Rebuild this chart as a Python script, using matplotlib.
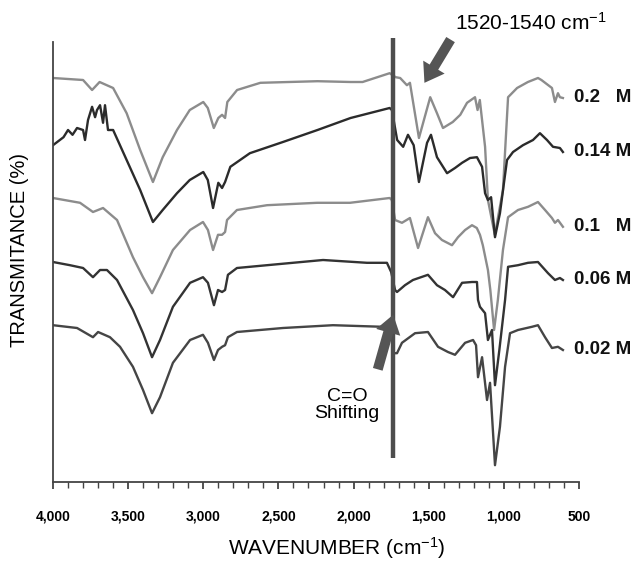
#!/usr/bin/env python3
"""FTIR spectra of the films at five concentrations (stacked, offset)."""

import matplotlib
matplotlib.use("Agg")
import matplotlib.pyplot as plt
from matplotlib.ticker import FuncFormatter, MultipleLocator

plt.rcParams["font.family"] = ["Liberation Sans", "DejaVu Sans"]
plt.rcParams["mathtext.fontset"] = "custom"
plt.rcParams["mathtext.rm"] = "Liberation Sans"
plt.rcParams["mathtext.default"] = "regular"

# spectra (wavenumber in cm-1, transmittance in a.u.)
wn_020 = [4000, 3800, 3740, 3690, 3600, 3510, 3420, 3335, 3270, 3175, 3090, 3000, 2970, 2930,
          2900, 2875, 2855, 2840, 2775, 2620, 2240, 2020, 1940, 1760, 1720, 1690, 1645, 1625,
          1565, 1490, 1445, 1405, 1340, 1290, 1245, 1192, 1175, 1160, 1125, 1106, 1060, 1006,
          972, 912, 840, 773, 750, 680, 660, 640, 627, 607]
tr_020 = [101, 100.5, 98, 100, 98.5, 92.2, 83, 75, 81.2, 88, 93, 95, 93.5, 88.5,
          91, 91.8, 91, 95, 98, 99.8, 100.2, 100, 100, 102.2, 101.2, 101, 99.2, 99.8,
          86, 96.2, 92.2, 88.5, 90, 91.8, 94.8, 96.2, 93, 95.5, 83.8, 70.5, 61.8, 73,
          96.2, 98.5, 100, 101, 100.5, 98.5, 95, 97.2, 96.2, 96]

wn_014 = [4000, 3930, 3900, 3870, 3840, 3800, 3787, 3767, 3740, 3720, 3707, 3687, 3667, 3654,
          3634, 3600, 3510, 3420, 3335, 3270, 3175, 3090, 3000, 2970, 2935, 2900, 2875, 2855,
          2820, 2690, 2470, 2240, 2020, 1760, 1745, 1710, 1670, 1638, 1600, 1565, 1511, 1485,
          1445, 1378, 1325, 1278, 1225, 1179, 1145, 1125, 1106, 1085, 1059, 1026, 979, 939,
          873, 806, 760, 713, 673, 627, 607]
tr_014 = [84.2, 86.2, 88, 86.8, 88.5, 88, 85.5, 90.5, 93.8, 91.2, 93, 94.2, 89.8, 94.2,
          88, 88, 80.5, 73, 65, 68, 72.2, 75.5, 77.5, 75.5, 68.5, 74.8, 73.5, 75,
          78.8, 82.2, 85, 88, 91, 93.5, 93, 85.5, 83.8, 86.8, 84.2, 75, 84.8, 86.8,
          81.2, 77.2, 78.5, 79.8, 81, 81.2, 78.8, 72.2, 70.5, 71.2, 61.2, 67.2, 80.5, 82.5,
          84.2, 85.5, 87.2, 85.5, 83.8, 83.5, 82.5]

wn_010 = [4000, 3820, 3734, 3667, 3574, 3468, 3401, 3341, 3288, 3202, 3088, 3002, 2969, 2935,
          2902, 2875, 2855, 2842, 2776, 2576, 2243, 2024, 1760, 1745, 1724, 1678, 1625, 1571,
          1505, 1458, 1412, 1345, 1305, 1258, 1212, 1180, 1159, 1140, 1106, 1090, 1065, 1040,
          1006, 972, 906, 839, 773, 726, 680, 660, 640, 607]
tr_010 = [71, 69.8, 67.5, 68.5, 65.5, 56.2, 51.2, 47.2, 51.2, 58, 63, 65, 63, 58,
          61.8, 61.8, 62.5, 65.5, 68, 69.2, 69.8, 69.8, 71, 70.5, 65.5, 64.8, 66, 58.5,
          66.2, 62.2, 60.5, 59.2, 61.2, 63, 64.2, 63.5, 61.8, 59.2, 53, 48, 38, 45.5,
          58, 66.2, 68, 68.8, 70, 68, 66, 64.8, 65.5, 63.8]

wn_006 = [4000, 3887, 3800, 3734, 3687, 3641, 3574, 3468, 3401, 3341, 3288, 3202, 3088, 3002,
          2969, 2929, 2902, 2875, 2855, 2836, 2776, 2576, 2203, 1911, 1778, 1750, 1724, 1711,
          1658, 1605, 1505, 1445, 1392, 1338, 1278, 1212, 1179, 1172, 1159, 1125, 1106, 1079,
          1059, 1030, 992, 972, 906, 839, 773, 706, 660, 627, 607]
tr_006 = [55, 54.2, 53.5, 51.2, 53, 53, 50.5, 43, 37.2, 31.2, 35.5, 43.8, 49.8, 51.2,
          49.8, 44.2, 48, 47.5, 48, 51.8, 53.5, 54.2, 55.5, 54.8, 54.8, 52.5, 48, 47.5,
          49.2, 50.5, 51.8, 49.2, 48, 46.2, 49.8, 50, 50, 45.5, 43.8, 42.2, 35.5, 38,
          24.2, 33, 45.5, 53.8, 54.2, 54.8, 55, 52.2, 50.5, 51, 50.5]

wn_002 = [4000, 3840, 3734, 3700, 3621, 3554, 3468, 3401, 3341, 3288, 3202, 3088, 3002, 2969,
          2929, 2902, 2875, 2855, 2836, 2776, 2470, 2137, 1804, 1750, 1735, 1711, 1678, 1591,
          1505, 1438, 1372, 1325, 1258, 1205, 1185, 1172, 1145, 1112, 1092, 1059, 1026, 992,
          959, 906, 813, 773, 726, 680, 640, 607]
tr_002 = [39.2, 38.5, 36.2, 37.5, 36.2, 33.8, 28.8, 23, 17.2, 21.2, 29.8, 35.5, 36.8, 34.8,
          30.5, 33, 33.8, 34.2, 36.2, 37.5, 38.5, 39.2, 38.8, 38.8, 32.2, 32.2, 34.8, 37.2,
          37.5, 33.8, 32.5, 31.8, 34.8, 35.5, 34.2, 26.2, 31.2, 20.5, 24.8, 4.2, 13.8, 28.8,
          37.2, 38, 38.8, 39.2, 36.2, 33.5, 33.8, 33]

series = [
    ("0.2   M", wn_020, tr_020, "#8c8c8c"),
    ("0.14 M", wn_014, tr_014, "#2b2b2b"),
    ("0.1   M", wn_010, tr_010, "#8c8c8c"),
    ("0.06 M", wn_006, tr_006, "#333333"),
    ("0.02 M", wn_002, tr_002, "#454545"),
]

carbonyl_wn = 1740

fig = plt.figure(figsize=(6.42, 5.64), dpi=100)
ax = fig.add_axes([53 / 642, 82 / 564, 526 / 642, 440 / 564])

for name, wn, tr, color in series:
    ax.plot(wn, tr, color=color, lw=1.7, solid_joinstyle="round")
    ax.text(535, tr[-1], name, fontsize=13.5, fontweight="bold", ha="left",
            va="center", color="#111111", clip_on=False)

# C=O reference line
ax.plot([carbonyl_wn, carbonyl_wn], [6, 111], color="#4d4d4d", lw=3.2,
        clip_on=False, zorder=5, solid_capstyle="butt")

ax.set_xlim(4000, 500)
ax.set_ylim(0, 110)
ax.set_yticks([])
for side in ("top", "right"):
    ax.spines[side].set_visible(False)
for side in ("left", "bottom"):
    ax.spines[side].set_color("#444444")
    ax.spines[side].set_linewidth(1.3)

ax.xaxis.set_major_locator(MultipleLocator(500))
ax.xaxis.set_minor_locator(MultipleLocator(100))
ax.xaxis.set_major_formatter(FuncFormatter(lambda v, p: f"{int(v):,}"))
ax.tick_params(axis="x", which="major", length=5, width=1.3, color="#444444",
               pad=15, labelsize=10)
ax.tick_params(axis="x", which="minor", length=4, width=1.0, color="#444444")
for lab in ax.get_xticklabels():
    lab.set_fontweight("bold")

# arrows and notes
ax.annotate("", xy=(1538, 99.2), xytext=(1345, 111.2), annotation_clip=False,
            arrowprops=dict(arrowstyle="simple,head_width=1.5,head_length=1.1,tail_width=0.6",
                            mutation_scale=12, color="#555555", lw=0))
ax.annotate("", xy=(1731, 42.5), xytext=(1844, 27.5), annotation_clip=False,
            arrowprops=dict(arrowstyle="simple,head_width=1.5,head_length=1.1,tail_width=0.6",
                            mutation_scale=12, color="#555555", lw=0), zorder=6)

fig.text(455 / 642, 1 - 23 / 564, "1520-1540 cm$^{-1}$", fontsize=15, ha="left", va="center")
fig.text(347 / 642, 1 - 405 / 564, "C=O\nShifting", fontsize=14, ha="center", va="center",
         linespacing=1.05)
fig.text(337 / 642, 1 - 548 / 564, "WAVENUMBER (cm$^{-1}$)", fontsize=15, ha="center",
         va="center")
fig.text(20 / 642, 1 - 250 / 564, "TRANSMITANCE (%)", fontsize=14.5, rotation=90,
         ha="center", va="center")

fig.savefig("out.png", dpi=100)
